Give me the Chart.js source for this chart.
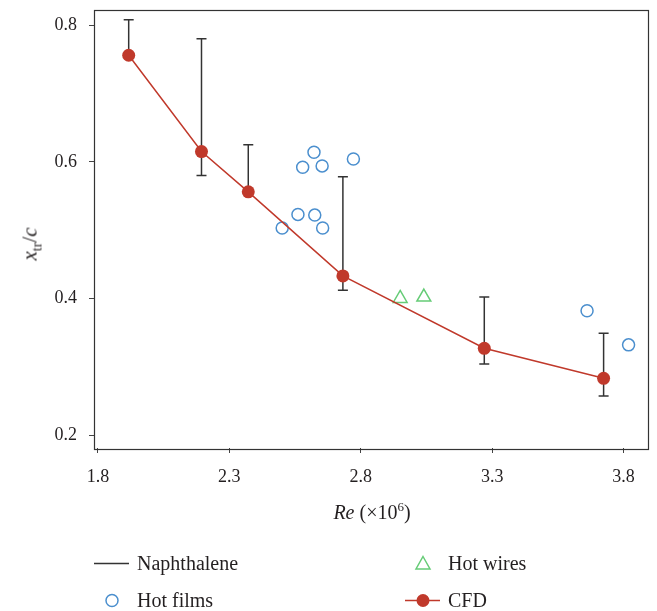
<!DOCTYPE html>
<html><head><meta charset="utf-8">
<script src="https://cdn.jsdelivr.net/npm/chart.js@4/dist/chart.umd.min.js"></script>
<style>
html,body{margin:0;padding:0;background:#fff;}
#wrap{position:relative;width:657px;height:611px;font-family:"Liberation Serif","DejaVu Serif",serif;color:#231f20;overflow:hidden;}
canvas{position:absolute;left:0;top:0;}
.t{position:absolute;white-space:nowrap;font-size:20px;line-height:1;}
.leg{position:absolute;display:flex;align-items:center;transform:translateY(-50%);font-size:20px;white-space:nowrap;}
.leg svg{display:block;}
</style></head><body>
<div id="wrap">
<canvas id="c" width="657" height="611"></canvas>
<div class="t" id="ytitle" style="left:30px;top:244px;transform:translate(-50%,-50%) rotate(-90deg);font-size:21px;"><i>x</i><span style="font-size:14px;position:relative;top:5px;">tr</span>/<i>c</i></div>
<div class="t" id="xtitle" style="left:372px;top:512px;transform:translate(-50%,-50%);"><i>Re</i> (×10<span style="font-size:13px;position:relative;top:-8px;">6</span>)</div>
<div class="leg" style="left:94px;top:563px;"><svg width="35" height="20"><line x1="0" y1="10" x2="35" y2="10" stroke="#333" stroke-width="1.5"/></svg><span style="margin-left:8px">Naphthalene</span></div>
<div class="leg" style="left:104px;top:600px;"><svg width="16" height="16"><circle cx="8" cy="8" r="6" fill="none" stroke="#4b8fce" stroke-width="1.5"/></svg><span style="margin-left:17px">Hot films</span></div>
<div class="leg" style="left:414px;top:563px;"><svg width="18" height="18"><polygon points="9,2 16,14.5 2,14.5" fill="none" stroke="#66cc77" stroke-width="1.5"/></svg><span style="margin-left:16px">Hot wires</span></div>
<div class="leg" style="left:405px;top:600px;"><svg width="35" height="20"><line x1="0" y1="10" x2="35" y2="10" stroke="#c0392b" stroke-width="1.5"/><circle cx="18" cy="10" r="6.5" fill="#c0392b"/></svg><span style="margin-left:8px">CFD</span></div>
</div>
<script>
// ---- data ----
const xTicks = [1.8, 2.3, 2.8, 3.3, 3.8];
const yTicks = [0.2, 0.4, 0.6, 0.8];
const cfdRe   = [1.917, 2.194, 2.372, 2.732, 3.270, 3.724];
const cfdXtr  = [0.756, 0.615, 0.556, 0.433, 0.327, 0.283];
const naphLow  = [0.756, 0.580, 0.556, 0.412, 0.304, 0.257];
const naphHigh = [0.808, 0.780, 0.625, 0.578, 0.402, 0.349];
const filmRe  = [2.501, 2.561, 2.579, 2.622, 2.625, 2.653, 2.655, 2.772, 3.661, 3.819];
const filmXtr = [0.503, 0.523, 0.592, 0.614, 0.522, 0.594, 0.503, 0.604, 0.382, 0.332];
const wireRe  = [2.950, 3.040];
const wireXtr = [0.400, 0.402];

const FONT = '"Liberation Serif","DejaVu Serif",serif';
const TXT = '#231f20';

const naphData = [];
cfdRe.forEach((r, i) => {
  naphData.push({x: r, y: naphLow[i]});
  naphData.push({x: r, y: naphHigh[i]});
  naphData.push({x: r, y: null});
});

const framePlugin = {
  id: 'frame',
  beforeDatasetsDraw(chart) {
    const a = chart.chartArea, ctx = chart.ctx;
    ctx.save();
    ctx.strokeStyle = '#333';
    ctx.lineWidth = 1.2;
    ctx.strokeRect(Math.round(a.left) + 0.5, Math.round(a.top) + 0.5,
                   Math.round(a.right - a.left), Math.round(a.bottom - a.top));
    ctx.restore();
  }
};

new Chart(document.getElementById('c'), {
  type: 'scatter',
  data: {
    datasets: [
      {
        label: 'CFD',
        data: cfdRe.map((r, i) => ({x: r, y: cfdXtr[i]})),
        showLine: true,
        borderColor: '#c0392b',
        borderWidth: 1.5,
        backgroundColor: '#c0392b',
        pointBackgroundColor: '#c0392b',
        pointBorderColor: '#c0392b',
        pointRadius: 6.5,
        pointBorderWidth: 0,
        tension: 0
      },
      {
        label: 'Hot films',
        data: filmRe.map((r, i) => ({x: r, y: filmXtr[i]})),
        pointStyle: 'circle',
        pointRadius: 6,
        pointBorderWidth: 1.5,
        pointBorderColor: '#4b8fce',
        pointBackgroundColor: 'rgba(255,255,255,0)',
        showLine: false
      },
      {
        label: 'Hot wires',
        data: wireRe.map((r, i) => ({x: r, y: wireXtr[i]})),
        pointStyle: 'triangle',
        pointRadius: 8,
        pointBorderWidth: 1.5,
        pointBorderColor: '#66cc77',
        pointBackgroundColor: 'rgba(255,255,255,0)',
        showLine: false
      },
      {
        label: 'Naphthalene',
        data: naphData,
        showLine: true,
        spanGaps: false,
        borderColor: '#333',
        borderWidth: 1.5,
        pointStyle: 'line',
        pointRadius: 5,
        pointBorderWidth: 1.5,
        pointBorderColor: '#333'
      }
    ]
  },
  options: {
    responsive: false,
    animation: false,
    events: [],
    layout: {padding: {top: 7, right: 7, left: 0, bottom: 0}},
    plugins: {legend: {display: false}, tooltip: {enabled: false}},
    scales: {
      x: {
        type: 'linear', min: 1.785, max: 3.891,
        afterBuildTicks: s => { s.ticks = xTicks.map(v => ({value: v})); },
        afterFit: s => { s.height = 163; s.paddingLeft = 0; s.paddingRight = 0; },
        grid: {drawOnChartArea: false, drawTicks: true, tickLength: 5, color: '#444', lineWidth: 1},
        border: {display: false},
        ticks: {font: {family: FONT, size: 18}, color: TXT, padding: 13, maxRotation: 0,
                callback: v => Number(v).toFixed(1)}
      },
      y: {
        type: 'linear', min: 0.181, max: 0.823,
        afterBuildTicks: s => { s.ticks = yTicks.map(v => ({value: v})); },
        afterFit: s => { s.width = 94; s.paddingTop = 0; s.paddingBottom = 0; },
        grid: {drawOnChartArea: false, drawTicks: true, tickLength: 5, color: '#444', lineWidth: 1},
        border: {display: false},
        ticks: {font: {family: FONT, size: 18}, color: TXT, padding: 12,
                callback: v => Number(v).toFixed(1)}
      }
    }
  },
  plugins: [framePlugin]
});
</script>
</body></html>
